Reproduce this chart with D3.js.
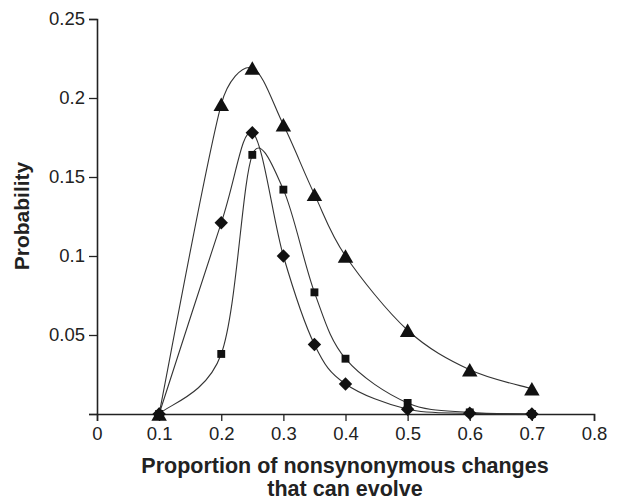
<!DOCTYPE html>
<html>
<head>
<meta charset="utf-8">
<script src="https://cdn.jsdelivr.net/npm/d3@7"></script>
<style>
	body { margin: 0; background: #fff; }
	svg { display: block; font-family: "Liberation Sans", Arial, sans-serif; }
</style>
</head>
<body>
<script>

	// x positions shared by all three series
	var proportions = [0.1, 0.2, 0.25, 0.3, 0.35, 0.4, 0.5, 0.6, 0.7];

	var triangleSeries = [0, 0.196, 0.219, 0.183, 0.139, 0.100, 0.053, 0.028, 0.016];
	var diamondSeries  = [0, 0.121, 0.178, 0.100, 0.044, 0.019, 0.003, 0.0005, 0];
	var squareSeries   = [0, 0.038, 0.164, 0.142, 0.077, 0.035, 0.007, 0.001, 0];

	var xTicks = [0, 0.1, 0.2, 0.3, 0.4, 0.5, 0.6, 0.7, 0.8];
	var yTicks = [0, 0.05, 0.1, 0.15, 0.2, 0.25];

	var width = 618, height = 500;

	var svg = d3.select("body").append("svg")
		.attr("width", width)
		.attr("height", height);

	var x = d3.scaleLinear().domain([0, 0.8]).range([97, 594]);
	var y = d3.scaleLinear().domain([0, 0.25]).range([414, 19]);

	var axisColor = "#222";

	// y axis, no label at zero
	var yAxis = svg.append("g")
		.attr("transform", "translate(" + x(0) + ",0)")
		.call(d3.axisLeft(y).tickValues(yTicks).tickSize(8).tickPadding(4)
			.tickFormat(function(d) { return d === 0 ? "" : String(+d.toFixed(2)); }));

	var xAxis = svg.append("g")
		.attr("transform", "translate(0," + y(0) + ")")
		.call(d3.axisBottom(x).tickValues(xTicks).tickSize(7).tickPadding(6)
			.tickFormat(function(d) { return String(+d.toFixed(1)); }));

	[yAxis, xAxis].forEach(function(g) {
		g.select(".domain").attr("stroke", axisColor).attr("stroke-width", 1.6);
		g.selectAll(".tick line").attr("stroke", axisColor).attr("stroke-width", 1.3);
		g.selectAll(".tick text")
			.attr("fill", "#222")
			.style("font-size", "18.5px")
			.style("font-family", "'Liberation Sans', Arial, sans-serif");
	});

	// spreadsheet-style smoothing: bezier handles of 1/6 of the neighbour chord,
	// but never longer than half of the segment itself
	var curveSheetSmooth = function(context) {
		var pts;
		var handle = function(a, b, segLen) {
			var dx = b[0] - a[0], dy = b[1] - a[1];
			var len = Math.sqrt(dx * dx + dy * dy);
			if (len === 0) return [0, 0];
			var k = Math.min(len / 6, segLen / 2) / len;
			return [dx * k, dy * k];
		};
		return {
			areaStart: function() {},
			areaEnd: function() {},
			lineStart: function() { pts = []; },
			point: function(px, py) { pts.push([+px, +py]); },
			lineEnd: function() {
				if (!pts.length) return;
				context.moveTo(pts[0][0], pts[0][1]);
				for (var i = 0; i < pts.length - 1; i++) {
					var p0 = pts[Math.max(i - 1, 0)], p1 = pts[i],
						p2 = pts[i + 1], p3 = pts[Math.min(i + 2, pts.length - 1)];
					var seg = Math.hypot(p2[0] - p1[0], p2[1] - p1[1]);
					var h1 = handle(p0, p2, seg), h2 = handle(p1, p3, seg);
					context.bezierCurveTo(p1[0] + h1[0], p1[1] + h1[1],
						p2[0] - h2[0], p2[1] - h2[1], p2[0], p2[1]);
				}
			}
		};
	};

	// marker shapes centred on their bounding box
	var triangleShape = {
		draw: function(ctx, size) {
			var w = Math.sqrt(size), h = w * 0.87;
			ctx.moveTo(0, -h / 2);
			ctx.lineTo(w / 2, h / 2);
			ctx.lineTo(-w / 2, h / 2);
			ctx.closePath();
		}
	};
	var diamondShape = {
		draw: function(ctx, size) {
			var r = Math.sqrt(size) / 2;
			ctx.moveTo(0, -r);
			ctx.lineTo(r, 0);
			ctx.lineTo(0, r);
			ctx.lineTo(-r, 0);
			ctx.closePath();
		}
	};

	var line = d3.line()
		.x(function(d) { return x(d[0]); })
		.y(function(d) { return y(d[1]); })
		.curve(curveSheetSmooth);

	var allSeries = [
		{ values: triangleSeries, symbol: triangleShape, size: 240 },
		{ values: squareSeries,   symbol: d3.symbolSquare, size: 62 },
		{ values: diamondSeries,  symbol: diamondShape,  size: 180 }
	];

	allSeries.forEach(function(s) {
		var pts = proportions.map(function(p, i) { return [p, s.values[i]]; });

		svg.append("path")
			.datum(pts)
			.attr("d", line)
			.attr("fill", "none")
			.attr("stroke", "#333")
			.attr("stroke-width", 1.1);

		svg.selectAll(null)
			.data(pts)
			.enter().append("path")
			.attr("transform", function(d) { return "translate(" + x(d[0]) + "," + y(d[1]) + ")"; })
			.attr("d", d3.symbol().type(s.symbol).size(s.size))
			.attr("fill", "#111");
	});

	// axis titles
	svg.append("text")
		.attr("transform", "translate(29,216) rotate(-90)")
		.attr("text-anchor", "middle")
		.style("font-size", "21px")
		.style("font-weight", "bold")
		.attr("fill", "#222")
		.text("Probability");

	svg.append("text")
		.attr("x", 345)
		.attr("y", 473)
		.attr("text-anchor", "middle")
		.style("font-size", "21.5px")
		.style("font-weight", "bold")
		.attr("fill", "#222")
		.text("Proportion of nonsynonymous changes");

	svg.append("text")
		.attr("x", 345)
		.attr("y", 496)
		.attr("text-anchor", "middle")
		.style("font-size", "21.5px")
		.style("font-weight", "bold")
		.attr("fill", "#222")
		.text("that can evolve");

</script>
</body>
</html>
